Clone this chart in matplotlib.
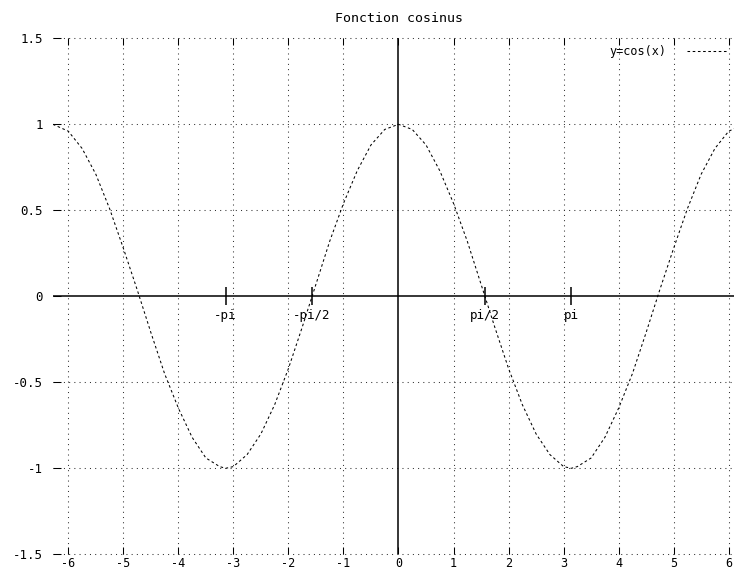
import numpy as np
import matplotlib.pyplot as plt

plt.rcParams['font.family'] = 'DejaVu Sans Mono'
plt.rcParams['axes.unicode_minus'] = False

x_pts = [-6.28, -6.0, -5.75, -5.5, -5.25, -5.0, -4.75, -4.5, -4.25, -4.0,
         -3.75, -3.5, -3.25, -3.14, -3.0, -2.75, -2.5, -2.25, -2.0, -1.75,
         -1.5, -1.25, -1.0, -0.75, -0.5, -0.25,
         0.0, 0.25, 0.5, 0.75, 1.0, 1.25, 1.5, 1.75, 2.0, 2.25,
         2.5, 2.75, 3.0, 3.14, 3.25, 3.5, 3.75, 4.0, 4.25, 4.5,
         4.75, 5.0, 5.25, 5.5, 5.75, 6.0, 6.28]
y_pts = [1.0, 0.96, 0.86, 0.71, 0.51, 0.28, 0.04, -0.21, -0.45, -0.65,
         -0.82, -0.94, -0.99, -1.0, -0.99, -0.92, -0.80, -0.63, -0.42, -0.18,
         0.07, 0.32, 0.54, 0.73, 0.88, 0.97,
         1.0, 0.97, 0.88, 0.73, 0.54, 0.32, 0.07, -0.18, -0.42, -0.63,
         -0.80, -0.92, -0.99, -1.0, -0.99, -0.94, -0.82, -0.65, -0.45, -0.21,
         0.04, 0.28, 0.51, 0.71, 0.86, 0.96, 1.0]

x_ticks = [-6, -5, -4, -3, -2, -1, 0, 1, 2, 3, 4, 5, 6]
y_ticks = [-1.5, -1, -0.5, 0, 0.5, 1, 1.5]
y_labels = ['-1.5', '-1', '-0.5', '0', '0.5', '1', '1.5']

pi_pos = [-np.pi, -np.pi/2, np.pi/2, np.pi]
pi_labels = ['-pi', '-pi/2', 'pi/2', 'pi']

W, H = 734, 571
fig = plt.figure(figsize=(W/100, H/100), dpi=100)
# plot area in pixels: left 52.7, right 744.3 (cut by the image), top 38.3, bottom 554.3
ax = fig.add_axes([52.7/W, (H-554.3)/H, (744.3-52.7)/W, (554.3-38.3)/H])
ax.set_xlim(-2*np.pi, 2*np.pi)
ax.set_ylim(-1.5, 1.5)

for s in ax.spines.values():
    s.set_visible(False)

# dotted grid
for xv in x_ticks:
    if xv != 0:
        ax.axvline(xv, color='#333333', lw=0.75, ls=(0, (1, 4)), clip_on=False, zorder=1)
for yv in y_ticks:
    if yv != 0:
        ax.axhline(yv, color='#333333', lw=0.75, ls=(0, (1, 4)), clip_on=False, zorder=1)

# zero axes
ax.axhline(0, color='black', lw=1.1, zorder=2)
ax.axvline(0, color='black', lw=1.1, zorder=2)

# the curve
ax.plot(x_pts, y_pts, color='black', lw=0.75, ls=(0, (2.5, 2.5)), label='y=cos(x)', zorder=3)

# pi marks on the x axis
ax.plot(pi_pos, [0]*len(pi_pos), ls='none', marker='|', ms=13, mew=1.1, color='black', zorder=3)
for xp, lab in zip(pi_pos, pi_labels):
    ax.annotate(lab, (xp, 0), xytext=(0, -14), textcoords='offset points',
                ha='center', va='center', fontsize=9)

ax.set_xticks(x_ticks)
ax.set_yticks(y_ticks)
ax.set_yticklabels(y_labels)
ax.tick_params(axis='x', direction='in', length=5, width=0.75, top=True, bottom=True,
               labelsize=8.5, pad=2)
ax.tick_params(axis='y', direction='in', length=6, width=0.75, left=True, right=True,
               labelsize=9, pad=7)

fig.text(398.5/W, 1-18.5/H, 'Fonction cosinus', ha='center', va='center', fontsize=9.5)

ax.legend(loc='center right', bbox_to_anchor=(727/W, 1-52/H), bbox_transform=fig.transFigure,
          frameon=False, markerfirst=False, fontsize=8.5, handlelength=3.4,
          handletextpad=1.7, borderpad=0, borderaxespad=0)

plt.savefig('out.png', dpi=100)
